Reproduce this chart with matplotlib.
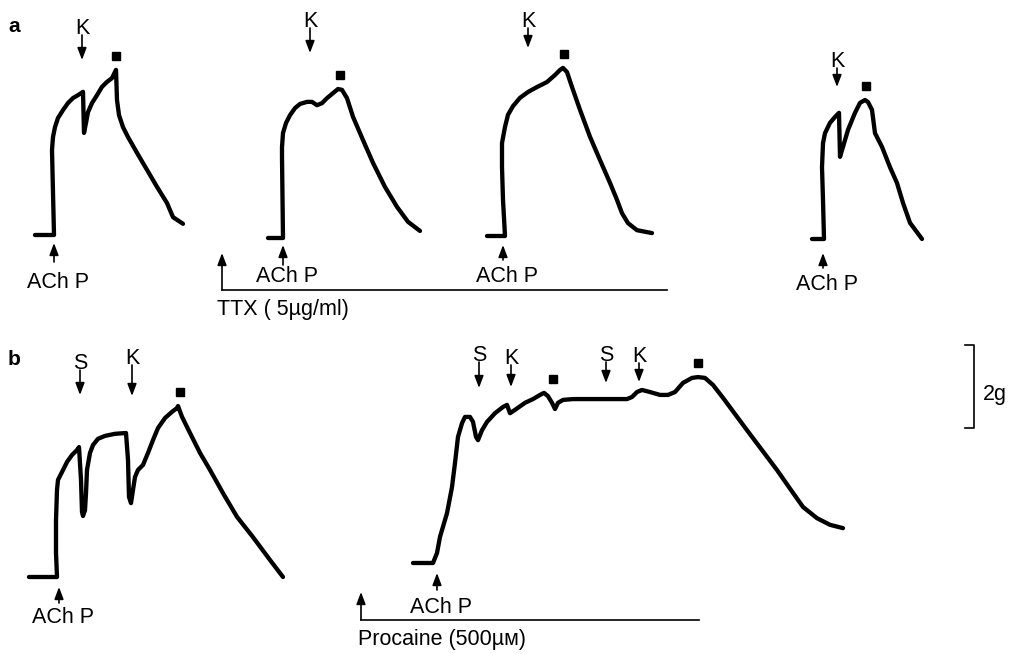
import matplotlib
matplotlib.use("Agg")
import matplotlib.pyplot as plt
import numpy as np

plt.rcParams['font.family'] = ['Liberation Sans', 'DejaVu Sans']

# tension traces: time from ACh P (chart units) and tension (g)
a1_t = [-19, 0, -2, -1, 1, 4, 9, 14, 19, 24, 29, 30, 32, 34, 38, 43, 48, 53, 58, 62, 63, 65, 69, 74,
        83, 93, 103, 113, 119, 129]
a1_g = [0, 0, 2.05, 2.36, 2.60, 2.82, 3.01, 3.18, 3.30, 3.37, 3.45, 2.46, 2.70, 2.96, 3.18, 3.37, 3.57,
        3.69, 3.78, 3.98, 3.25, 2.89, 2.60, 2.36, 1.98, 1.57, 1.16, 0.77, 0.43, 0.27]

a2_t = [-15, 0, -1, -1, 0, 3, 7, 12, 17, 24, 29, 34, 39, 44, 50, 55, 59, 64, 70, 80, 90, 102, 114, 125, 137]
a2_g = [0, 0, 1.95, 2.19, 2.53, 2.77, 2.96, 3.13, 3.23, 3.28, 3.28, 3.20, 3.25, 3.37, 3.49, 3.59, 3.57,
        3.37, 2.92, 2.36, 1.81, 1.23, 0.75, 0.39, 0.17]

a3_t = [-18, 0, -2, -3, -3, 0, 3, 8, 15, 23, 32, 42, 50, 55, 58, 62, 67, 75, 85, 95, 105, 112, 117,
        123, 132, 147]
a3_g = [0, 0, 0.87, 1.66, 2.24, 2.63, 2.92, 3.13, 3.33, 3.47, 3.59, 3.71, 3.88, 4.00, 4.05, 3.95, 3.59,
        3.04, 2.39, 1.83, 1.28, 0.87, 0.55, 0.31, 0.14, 0.07]

a4_t = [-12, 0, -1, -2, -1, 1, 6, 11, 15, 16, 19, 24, 31, 36, 41, 44, 48, 51, 58, 66, 73, 79, 86, 98]
a4_g = [0, 0, 0.94, 1.73, 2.31, 2.55, 2.80, 2.94, 3.04, 1.98, 2.22, 2.63, 3.04, 3.28, 3.35, 3.30, 3.11,
        2.55, 2.22, 1.73, 1.35, 0.87, 0.39, 0.0]

b1_t = [-28, 0, -1, -1, 0, 1, 5, 10, 15, 20, 22, 24, 25, 26, 28, 29, 30, 33, 36, 41, 48, 58, 69, 71,
        72, 74, 76, 78, 81, 86, 91, 96, 101, 108, 115, 120, 121, 125, 133, 143, 153, 166, 180, 196,
        213, 226]
b1_g = [0, 0, 0.58, 1.37, 2.10, 2.34, 2.53, 2.77, 2.94, 3.06, 3.13, 2.34, 1.57, 1.47, 1.61, 2.02,
        2.58, 2.99, 3.18, 3.33, 3.40, 3.45, 3.47, 2.82, 1.93, 1.78, 2.10, 2.41, 2.58, 2.70, 2.99, 3.30,
        3.59, 3.83, 3.98, 4.07, 4.12, 3.86, 3.47, 2.99, 2.58, 2.02, 1.45, 0.96, 0.41, 0.0]

b2_t = [-20, 0, 4, 7, 14, 19, 22, 25, 29, 32, 37, 40, 43, 45, 49, 54, 62, 70, 74, 77, 82, 92, 100,
        107, 111, 115, 119, 122, 125, 130, 140, 194, 199, 204, 209, 217, 227, 235, 242, 250, 259,
        265, 272, 280, 290, 314, 344, 360, 370, 384, 397, 410]
b2_g = [0, 0, 0.24, 0.63, 1.20, 1.83, 2.41, 3.04, 3.37, 3.52, 3.52, 3.40, 3.04, 2.96, 3.20, 3.40,
        3.61, 3.76, 3.81, 3.61, 3.69, 3.86, 3.95, 4.05, 4.10, 4.02, 3.86, 3.71, 3.86, 3.93, 3.95, 3.95,
        4.00, 4.12, 4.17, 4.12, 4.05, 4.05, 4.12, 4.34, 4.46, 4.48, 4.46, 4.29, 3.98, 3.20, 2.24, 1.69,
        1.35, 1.08, 0.92, 0.84]

# drug additions (label, time) and end of stimulation (square)
a1_events = [("K", 28)]
a2_events = [("K", 27)]
a3_events = [("K", 23)]
a4_events = [("K", 13)]
b1_events = [("S", 23), ("K", 75)]
b2_events = [("S", 46), ("K", 78), ("S", 173), ("K", 206)]
a1_stop, a2_stop, a3_stop, a4_stop = [62], [57], [59], [42]
b1_stop = [123]
b2_stop = [120, 265]
ach_t = {"a1": 0, "a2": 0, "a3": -2, "a4": -1, "b1": 2, "b2": 4}

SCALE_G = 2
PX_PER_G = 41.5

# layout in figure pixels
origin = {"a1": (54, 235), "a2": (283, 238), "a3": (505, 236), "a4": (824, 239),
          "b1": (57, 577), "b2": (433, 563)}
event_arrow_y = {"a1": [(35, 60)], "a2": [(28, 53)], "a3": [(28, 48)], "a4": [(68, 87)],
                 "b1": [(370, 395), (365, 396)],
                 "b2": [(362, 388), (365, 387), (362, 383), (363, 382)]}
ach_arrow_y = {"a1": (243, 262, 288), "a2": (245, 265, 282), "a3": (245, 260, 282),
               "a4": (253, 268, 290), "b1": (587, 603, 623), "b2": (573, 590, 613)}

traces = {"a1": (a1_t, a1_g, a1_events, a1_stop), "a2": (a2_t, a2_g, a2_events, a2_stop),
          "a3": (a3_t, a3_g, a3_events, a3_stop), "a4": (a4_t, a4_g, a4_events, a4_stop),
          "b1": (b1_t, b1_g, b1_events, b1_stop), "b2": (b2_t, b2_g, b2_events, b2_stop)}

FS = 15.5
fig = plt.figure(figsize=(10.2, 6.54), dpi=100)
ax = fig.add_axes([0, 0, 1, 1])
ax.set_xlim(0, 1020)
ax.set_ylim(654, 0)
ax.axis("off")

arrow_kw = dict(arrowstyle="-|>,head_length=0.45,head_width=0.17", mutation_scale=16,
                lw=1.2, color="black", shrinkA=0, shrinkB=0)


def arrow(x, y_from, y_to):
    ax.annotate("", xy=(x, y_to), xytext=(x, y_from), arrowprops=arrow_kw)


for key, (t, g, events, stops) in traces.items():
    x0, y0 = origin[key]
    t = np.array(t)
    g = np.array(g)
    ax.plot(x0 + t, y0 - g * PX_PER_G, color="black", lw=3.1,
            solid_joinstyle="round", solid_capstyle="round")
    # stimulus arrows
    for (lab, te), (top, tip) in zip(events, event_arrow_y[key]):
        arrow(x0 + te, top, tip)
        ax.text(x0 + te, top - 1, lab, fontsize=FS, ha="center", va="baseline")
    # end of stimulation
    for ts in stops:
        near = np.abs(t - ts) <= 10
        ax.plot(x0 + ts, y0 - g[near].max() * PX_PER_G - 14, "s", color="black", ms=5.5)
    # ACh P
    tip, tail, base = ach_arrow_y[key]
    xa = x0 + ach_t[key]
    arrow(xa, tail, tip)
    ax.text(xa - 27, base, "ACh P", fontsize=FS, ha="left", va="baseline")

# drug bars
arrow(222, 290, 253)
ax.plot([222, 667], [290, 290], color="black", lw=1.2)
ax.text(217, 315, "TTX ( 5µg/ml)", fontsize=FS, ha="left", va="baseline")
arrow(361, 620, 592)
ax.plot([361, 699], [620, 620], color="black", lw=1.2)
ax.text(358, 645, "Procaine (500µм)", fontsize=FS, ha="left", va="baseline")

# scale bar
sb_top = 345
sb_bot = sb_top + SCALE_G * PX_PER_G
ax.plot([965, 974, 974, 965], [sb_top, sb_top, sb_bot, sb_bot], color="black", lw=1.2)
ax.text(983, 400, "%dg" % SCALE_G, fontsize=FS, ha="left", va="baseline")

ax.text(8, 32, "a", fontsize=15, fontweight="bold", ha="left", va="baseline")
ax.text(8, 365, "b", fontsize=15, fontweight="bold", ha="left", va="baseline")

fig.savefig("out.png", dpi=100)
